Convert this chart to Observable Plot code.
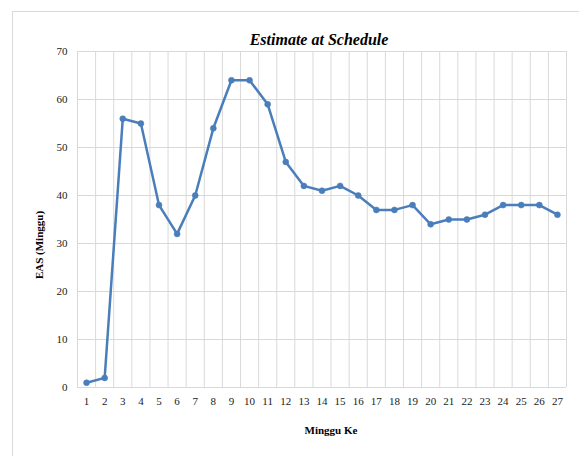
<!DOCTYPE html>
<html>
<head>
<meta charset="utf-8">
<script src="https://cdn.jsdelivr.net/npm/d3@7"></script>
<script src="https://cdn.jsdelivr.net/npm/@observablehq/plot@0.6"></script>
<style>
  html, body { margin: 0; padding: 0; background: #fff; overflow: hidden; }
  #wrap { position: relative; width: 579px; height: 456px; }
  #border { position: absolute; left: 12px; top: 11px; width: 600px; height: 500px; border: 1px solid #d9d9d9; box-sizing: border-box; }
  #chart { position: absolute; left: 0; top: 0; }
  #ylabel { position: absolute; left: 39px; top: 245px; transform: translate(-50%, -50%) rotate(-90deg); white-space: nowrap;
            font-family: "Liberation Serif", "Times New Roman", serif; font-size: 11px; font-weight: bold; color: #000; line-height: 1; }
</style>
</head>
<body>
<div id="wrap"><div id="border"></div><div id="chart"></div><div id="ylabel"></div></div>
<script>
const weeks = [1,2,3,4,5,6,7,8,9,10,11,12,13,14,15,16,17,18,19,20,21,22,23,24,25,26,27];
const eas   = [1,2,56,55,38,32,40,54,64,64,59,47,42,41,42,40,37,37,38,34,35,35,36,38,38,38,36];
const yTicks = [0,10,20,30,40,50,60,70];
const titleText = "Estimate at Schedule";
const xLabel = "Minggu Ke";
const yLabel = "EAS (Minggu)";

const data = weeks.map((w, i) => ({week: w, eas: eas[i]}));
const bounds = weeks.map(w => w - 0.5).concat([weeks[weeks.length - 1] + 0.5]);
const blue = "#4a7ebb";
const grid = "#d9d9d9";
const serif = "Liberation Serif, Times New Roman, serif";

const chart = Plot.plot({
  width: 579,
  height: 456,
  marginLeft: 77,
  marginRight: 13,
  marginTop: 51,
  marginBottom: 69,
  style: {fontSize: "11px", color: "#1a1a1a", background: "transparent"},
  x: {type: "linear", domain: [bounds[0], bounds[bounds.length - 1]]},
  y: {domain: [0, 70]},
  marks: [
    Plot.ruleX(bounds, {stroke: grid, strokeWidth: 1}),
    Plot.ruleY(yTicks, {stroke: grid, strokeWidth: 1}),
    Plot.axisX({ticks: weeks, tickSize: 0, tickPadding: 10, tickFormat: d => String(d), label: null, fontSize: 11}),
    Plot.axisY({ticks: yTicks, tickSize: 0, tickPadding: 10, label: null, fontSize: 11}),
    Plot.line(data, {x: "week", y: "eas", stroke: blue, strokeWidth: 2.5, strokeLinejoin: "round"}),
    Plot.dot(data, {x: "week", y: "eas", r: 3, fill: blue, stroke: blue, strokeWidth: 0.5}),
    Plot.text([titleText], {frameAnchor: "top", lineAnchor: "bottom", dy: -7, dx: -3, text: d => d, fontSize: 16, fontWeight: "bold", fontStyle: "italic", fill: "#000"}),
    Plot.text([xLabel], {frameAnchor: "bottom", lineAnchor: "middle", dy: 43, dx: 9, text: d => d, fontSize: 11, fontWeight: "bold", fill: "#000"})
  ]
});
d3.select(chart).attr("font-family", serif).style("font-family", serif);
d3.select(chart).selectAll("g, text").attr("font-family", serif).style("font-family", serif);
document.getElementById("chart").appendChild(chart);
document.getElementById("ylabel").textContent = yLabel;
</script>
</body>
</html>
